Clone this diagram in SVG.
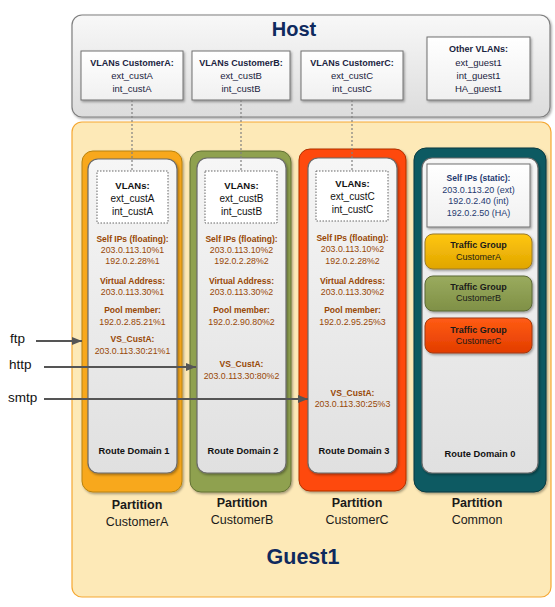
<svg xmlns="http://www.w3.org/2000/svg" width="555" height="607" viewBox="0 0 555 607">
<defs>
<linearGradient id="gHost" x1="0" y1="0" x2="0" y2="1"><stop offset="0" stop-color="#f8f8f8"/><stop offset="1" stop-color="#dcdcdc"/></linearGradient>
<linearGradient id="gInner" x1="0" y1="0" x2="0" y2="1"><stop offset="0" stop-color="#f6f6f6"/><stop offset="1" stop-color="#e0e0e0"/></linearGradient>
<linearGradient id="gBox" x1="0" y1="0" x2="0" y2="1"><stop offset="0" stop-color="#ffffff"/><stop offset="1" stop-color="#f0f0f0"/></linearGradient>
<linearGradient id="gTA" x1="0" y1="0" x2="0" y2="1"><stop offset="0" stop-color="#ffc710"/><stop offset="1" stop-color="#e0a500"/></linearGradient>
<linearGradient id="gTB" x1="0" y1="0" x2="0" y2="1"><stop offset="0" stop-color="#9aab5e"/><stop offset="1" stop-color="#7f9046"/></linearGradient>
<linearGradient id="gTC" x1="0" y1="0" x2="0" y2="1"><stop offset="0" stop-color="#ff5c14"/><stop offset="1" stop-color="#e23c00"/></linearGradient>
<filter id="sh" x="-10%" y="-10%" width="125%" height="125%"><feDropShadow dx="1.2" dy="1.5" stdDeviation="0.8" flood-color="#000" flood-opacity="0.35"/></filter>
<marker id="arr" viewBox="0 0 10 8" refX="10" refY="4" markerWidth="10" markerHeight="8" markerUnits="userSpaceOnUse" orient="auto"><path d="M0,0 L10,4 L0,8 z" fill="#555555"/></marker>
</defs>
<style>
text{font-family:"Liberation Sans",Arial,sans-serif;text-anchor:middle}
.title{font-weight:bold;fill:#0f2a5e}
.hv{font-size:9.5px;fill:#1a2340}
.hvb{font-size:9px;font-weight:bold;fill:#1a2340}
.vl{font-size:10px;fill:#111}
.vlb{font-size:9.5px;font-weight:bold;fill:#111}
.ct{font-size:8.8px;fill:#984806}
.cb{font-size:8.5px;font-weight:bold;fill:#984806}
.rd{font-size:9.3px;font-weight:bold;fill:#111}
.pb{font-size:12.5px;font-weight:bold;fill:#1a1a1a}
.pn{font-size:12.5px;fill:#1a1a1a}
.st{font-size:9px;fill:#1f3a70}
.stb{font-size:8.5px;font-weight:bold;fill:#1f3a70}
.tgb{font-size:9px;font-weight:bold;fill:#1a1a1a}
.tg{font-size:9px;fill:#1a1a1a}
.inner{fill:url(#gInner);stroke:#6b6b6b;stroke-width:1.2}
.box{fill:url(#gBox);stroke:#707070;stroke-width:1}
.dbox{fill:#ffffff;stroke:#666;stroke-width:1;stroke-dasharray:1.5 1.5}
.dot{stroke:#808080;stroke-width:1.2;stroke-dasharray:2 2;fill:none}
.arrow{stroke:#555555;stroke-width:1.8;fill:none;marker-end:url(#arr)}
.lbl{font-size:13.5px;fill:#111;text-anchor:start}
</style>

<g id="host">
<rect x="72" y="15" width="478" height="102" rx="10" fill="url(#gHost)" stroke="#7f7f7f" stroke-width="1.2" filter="url(#sh)"/>
<text class="title" x="294" y="36" font-size="20">Host</text>
</g>
<g id="vlans-host-a">
<rect class="box" x="81" y="51" width="102" height="49" filter="url(#sh)"/>
<text class="hvb" x="132" y="66">VLANs CustomerA:</text>
<text class="hv" x="132" y="79">ext_custA</text>
<text class="hv" x="132" y="92">int_custA</text>
</g>
<g id="vlans-host-b">
<rect class="box" x="192" y="51" width="98" height="49" filter="url(#sh)"/>
<text class="hvb" x="241" y="66">VLANs CustomerB:</text>
<text class="hv" x="241" y="79">ext_custB</text>
<text class="hv" x="241" y="92">int_custB</text>
</g>
<g id="vlans-host-c">
<rect class="box" x="301" y="51" width="102" height="49" filter="url(#sh)"/>
<text class="hvb" x="352" y="66">VLANs CustomerC:</text>
<text class="hv" x="352" y="79">ext_custC</text>
<text class="hv" x="352" y="92">int_custC</text>
</g>
<g id="vlans-host-other">
<rect class="box" x="427" y="37" width="103" height="63" filter="url(#sh)"/>
<text class="hvb" x="478.5" y="52">Other VLANs:</text>
<text class="hv" x="478.5" y="66">ext_guest1</text>
<text class="hv" x="478.5" y="79">int_guest1</text>
<text class="hv" x="478.5" y="92">HA_guest1</text>
</g>

<g id="guest1">
<rect x="72" y="122" width="479" height="475" rx="10" fill="#fde9b7" stroke="#f5a833" stroke-width="1.2"/>
<text class="title" x="303" y="564" font-size="21.5">Guest1</text>
</g>

<g id="partition-a">
<rect x="82" y="151" width="100" height="341" rx="11" fill="#f8a81a" stroke="#b8820e" stroke-width="1" filter="url(#sh)"/>
<rect class="inner" x="88" y="159" width="89" height="314" rx="10" filter="url(#sh)"/>
<rect class="dbox" x="97" y="171" width="71" height="52"/>
<text class="vlb" x="132.5" y="189">VLANs:</text>
<text class="vl" x="132.5" y="202">ext_custA</text>
<text class="vl" x="132.5" y="215">int_custA</text>
<text class="cb" x="132.5" y="242">Self IPs (floating):</text>
<text class="ct" x="132.5" y="253">203.0.113.10%1</text>
<text class="ct" x="132.5" y="264">192.0.2.28%1</text>
<text class="cb" x="132.5" y="284">Virtual Address:</text>
<text class="ct" x="132.5" y="295">203.0.113.30%1</text>
<text class="cb" x="132.5" y="313">Pool member:</text>
<text class="ct" x="132.5" y="325">192.0.2.85.21%1</text>
<text class="cb" x="132.5" y="342">VS_CustA:</text>
<text class="ct" x="132.5" y="354">203.0.113.30:21%1</text>
<text class="rd" x="134" y="454">Route Domain 1</text>
<text class="pb" x="137" y="509">Partition</text>
<text class="pn" x="137" y="526">CustomerA</text>
</g>

<g id="partition-b">
<rect x="190" y="151" width="101" height="341" rx="11" fill="#8fa14f" stroke="#627035" stroke-width="1" filter="url(#sh)"/>
<rect class="inner" x="197" y="158" width="89" height="315" rx="10" filter="url(#sh)"/>
<rect class="dbox" x="205" y="171" width="72" height="52"/>
<text class="vlb" x="241.5" y="189">VLANs:</text>
<text class="vl" x="241.5" y="202">ext_custB</text>
<text class="vl" x="241.5" y="215">int_custB</text>
<text class="cb" x="241.5" y="242">Self IPs (floating):</text>
<text class="ct" x="241.5" y="253">203.0.113.10%2</text>
<text class="ct" x="241.5" y="264">192.0.2.28%2</text>
<text class="cb" x="241.5" y="284">Virtual Address:</text>
<text class="ct" x="241.5" y="295">203.0.113.30%2</text>
<text class="cb" x="241.5" y="313">Pool member:</text>
<text class="ct" x="241.5" y="325">192.0.2.90.80%2</text>
<text class="cb" x="241.5" y="367">VS_CustA:</text>
<text class="ct" x="241.5" y="379">203.0.113.30:80%2</text>
<text class="rd" x="243" y="454">Route Domain 2</text>
<text class="pb" x="242" y="507">Partition</text>
<text class="pn" x="242" y="524">CustomerB</text>
</g>

<g id="partition-c">
<rect x="299" y="149" width="107" height="342" rx="11" fill="#fe4a0a" stroke="#b03000" stroke-width="1" filter="url(#sh)"/>
<rect class="inner" x="308" y="158" width="89" height="315" rx="10" filter="url(#sh)"/>
<rect class="dbox" x="316" y="171" width="72" height="50"/>
<text class="vlb" x="352.5" y="187">VLANs:</text>
<text class="vl" x="352.5" y="200">ext_custC</text>
<text class="vl" x="352.5" y="213">int_custC</text>
<text class="cb" x="352.5" y="241">Self IPs (floating):</text>
<text class="ct" x="352.5" y="252">203.0.113.10%2</text>
<text class="ct" x="352.5" y="264">192.0.2.28%2</text>
<text class="cb" x="352.5" y="284">Virtual Address:</text>
<text class="ct" x="352.5" y="295">203.0.113.30%2</text>
<text class="cb" x="352.5" y="313">Pool member:</text>
<text class="ct" x="352.5" y="325">192.0.2.95.25%3</text>
<text class="cb" x="352.5" y="396">VS_CustA:</text>
<text class="ct" x="352.5" y="407">203.0.113.30:25%3</text>
<text class="rd" x="354" y="454">Route Domain 3</text>
<text class="pb" x="357" y="507">Partition</text>
<text class="pn" x="357" y="524">CustomerC</text>
</g>

<g id="partition-common">
<rect x="414" y="148" width="132" height="344" rx="12" fill="#0e5a62" stroke="#073a40" stroke-width="1" filter="url(#sh)"/>
<rect class="inner" x="422" y="158" width="116" height="315" rx="10" filter="url(#sh)"/>
<rect class="box" x="427" y="164" width="103" height="63" filter="url(#sh)"/>
<text class="stb" x="478.5" y="181">Self IPs (static):</text>
<text class="st" x="478.5" y="193">203.0.113.20 (ext)</text>
<text class="st" x="478.5" y="204">192.0.2.40 (int)</text>
<text class="st" x="478.5" y="216">192.0.2.50 (HA)</text>
<text class="rd" x="480" y="457">Route Domain 0</text>
<text class="pb" x="477" y="507">Partition</text>
<text class="pn" x="477" y="524">Common</text>
</g>
<g id="tg-a">
<rect x="425" y="234" width="107" height="35" rx="8" fill="url(#gTA)" stroke="#9a7a2a" stroke-width="1" filter="url(#sh)"/>
<text class="tgb" x="478.5" y="248">Traffic Group</text>
<text class="tg" x="478.5" y="260">CustomerA</text>
</g>
<g id="tg-b">
<rect x="425" y="276" width="107" height="35" rx="8" fill="url(#gTB)" stroke="#5b6836" stroke-width="1" filter="url(#sh)"/>
<text class="tgb" x="478.5" y="290">Traffic Group</text>
<text class="tg" x="478.5" y="301">CustomerB</text>
</g>
<g id="tg-c">
<rect x="425" y="318" width="107" height="35" rx="8" fill="url(#gTC)" stroke="#a03a10" stroke-width="1" filter="url(#sh)"/>
<text class="tgb" x="478.5" y="333">Traffic Group</text>
<text class="tg" x="478.5" y="344">CustomerC</text>
</g>

<g id="labels">
<text class="lbl" x="10" y="343">ftp</text>
<text class="lbl" x="9" y="369">http</text>
<text class="lbl" x="8" y="402">smtp</text>
</g>

<g id="connectors">
<line class="dot" x1="132" y1="100" x2="132" y2="171"/>
<line class="dot" x1="241" y1="100" x2="241" y2="171"/>
<line class="dot" x1="352" y1="100" x2="352" y2="171"/>
<line class="arrow" x1="36" y1="341" x2="82" y2="341"/>
<line class="arrow" x1="44" y1="367" x2="196" y2="367"/>
<line class="arrow" x1="44" y1="399" x2="308" y2="399"/>
</g>
</svg>
